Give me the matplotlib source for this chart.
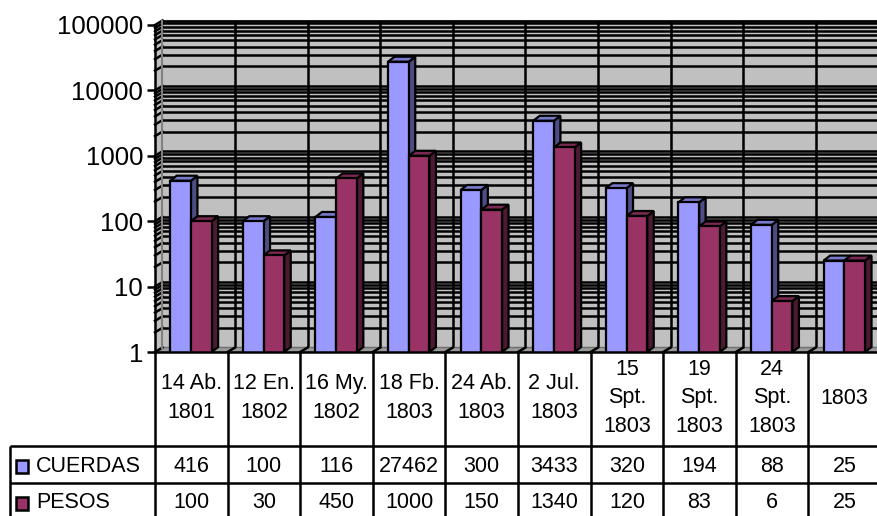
import matplotlib
matplotlib.use("Agg")
import matplotlib.pyplot as plt
import matplotlib.transforms as mtransforms
from matplotlib.patches import Polygon, Rectangle
from matplotlib.lines import Line2D
import numpy as np

plt.rcParams['font.family'] = ['Liberation Sans', 'DejaVu Sans']

# ---- data ----
categories = ["14 Ab.\n1801", "12 En.\n1802", "16 My.\n1802", "18 Fb.\n1803",
              "24 Ab.\n1803", "2 Jul.\n1803", "15\nSpt.\n1803", "19\nSpt.\n1803",
              "24\nSpt.\n1803", "1803"]
cuerdas = [416, 100, 116, 27462, 300, 3433, 320, 194, 88, 25]
pesos = [100, 30, 450, 1000, 150, 1340, 120, 83, 6, 25]
series_names = ["CUERDAS", "PESOS"]
y_ticks = [1, 10, 100, 1000, 10000, 100000]

# ---- style ----
W, H = 878, 516
front_colors = ["#9999FF", "#993366"]
side_colors = ["#4D4D85", "#4D1A33"]
top_colors = ["#7A7ACC", "#7A2952"]
wall_color = "#C0C0C0"
floor_color = "#9A9A9A"
DX, DY = 7.5, 4.5        # wall depth (pixels)
BDX, BDY = 6.5, 5.0      # bar depth (pixels)
bar_w = 0.285
bar_off = [0.21, 0.495]
grid_lw = 1.8

fig = plt.figure(figsize=(W / 100, H / 100), dpi=100)
fig.patch.set_facecolor("white")

n = len(categories)
ax = fig.add_axes([155 / W, (H - 352) / H, 726 / W, 327 / H])
ax.set_yscale("log")
ax.set_ylim(1, 1e5)
ax.set_xlim(0, n)
ax.patch.set_visible(False)
for s in ("top", "right"):
    ax.spines[s].set_visible(False)
for s in ("left", "bottom"):
    ax.spines[s].set_linewidth(1.8)
    ax.spines[s].set_zorder(6)
ax.set_xticks([])
ax.set_yticks(y_ticks)
ax.set_yticklabels([str(v) for v in y_ticks])
ax.yaxis.set_minor_locator(matplotlib.ticker.NullLocator())
ax.tick_params(axis="y", direction="out", length=5.5, width=1.8, labelsize=18.5, pad=3)

wall_tf = ax.transData + mtransforms.Affine2D().translate(DX, DY)
ident = mtransforms.IdentityTransform()

# back wall
ax.add_patch(Rectangle((0, 0), 1, 1, transform=ax.transAxes + mtransforms.Affine2D().translate(DX, DY),
                       facecolor=wall_color, edgecolor="#808080", lw=1.5, zorder=0.5, clip_on=False))

grid_vals = [m * 10 ** k for k in range(5) for m in range(1, 10)] + [1e5]
for g in grid_vals:
    ax.plot([0, n], [g, g], color="black", lw=grid_lw, transform=wall_tf, zorder=0.8, clip_on=False,
            solid_capstyle="butt")
for i in range(1, n + 1):
    ax.plot([i, i], [1, 1e5], color="black", lw=grid_lw, transform=wall_tf, zorder=0.8, clip_on=False,
            solid_capstyle="butt")

fig.canvas.draw()
T = ax.transData.transform


def pt(x, y, dx=0.0, dy=0.0):
    p = T((x, y))
    return (p[0] + dx, p[1] + dy)


def seg(p, q, **kw):
    ax.add_line(Line2D([p[0], q[0]], [p[1], q[1]], transform=ident, clip_on=False, **kw))


# side wall
side = [pt(0, 1), pt(0, 1e5), pt(0, 1e5, DX, DY), pt(0, 1, DX, DY)]
ax.add_patch(Polygon(side, closed=True, transform=ident, facecolor=wall_color,
                     edgecolor="none", zorder=1, clip_on=False))
for g in grid_vals:
    seg(pt(0, g), pt(0, g, DX, DY), color="black", lw=grid_lw, zorder=1.1)
seg(pt(0, 1, DX, DY), pt(0, 1e5, DX, DY), color="#808080", lw=1.5, zorder=1.1)

# floor
floor = [pt(0, 1), pt(n, 1), pt(n, 1, DX, DY), pt(0, 1, DX, DY)]
ax.add_patch(Polygon(floor, closed=True, transform=ident, facecolor=floor_color,
                     edgecolor="#707070", lw=1.0, zorder=1, clip_on=False))
for i in range(1, n + 1):
    seg(pt(i, 1), pt(i, 1, DX, DY), color="black", lw=grid_lw, zorder=1.1)

# bars
x = np.arange(n)
for s, vals in enumerate([cuerdas, pesos]):
    xs = x + bar_off[s]
    bars = ax.bar(xs, vals, width=bar_w, align="edge", color=front_colors[s],
                  edgecolor="black", linewidth=1.6, label=series_names[s])
    for i, (b, v) in enumerate(zip(bars, vals)):
        z = 2 + s * 0.5
        b.set_zorder(z + 0.2)
        x0, x1 = xs[i], xs[i] + bar_w
        side_face = [pt(x1, 1), pt(x1, v), pt(x1, v, BDX, BDY), pt(x1, 1, BDX, BDY)]
        top_face = [pt(x0, v), pt(x1, v), pt(x1, v, BDX, BDY), pt(x0, v, BDX, BDY)]
        ax.add_patch(Polygon(side_face, closed=True, transform=ident, facecolor=side_colors[s],
                             edgecolor="black", lw=1.6, zorder=z, clip_on=False))
        ax.add_patch(Polygon(top_face, closed=True, transform=ident, facecolor=top_colors[s],
                             edgecolor="black", lw=1.6, zorder=z + 0.1, clip_on=False,
                             joinstyle="miter"))

# ---- data table ----
col_px = 72.6
leg_w = 145.2 / col_px
tax = fig.add_axes([(155 - 145.2) / W, 0, (726 + 145.2) / W, (H - 352) / H])
tax.set_xlim(-leg_w, n)
tax.set_ylim(H - 352, 0)
tax.axis("off")

row_top = [0, 94, 131]
row_bot = [94, 131, 168]
lw_t = 1.8
for i in range(n + 1):
    tax.plot([i, i], [0, 170], color="black", lw=lw_t, clip_on=False, solid_capstyle="butt")
tax.plot([-leg_w, -leg_w], [row_top[1], 170], color="black", lw=lw_t, solid_capstyle="butt",
         clip_on=False)
for yy in row_top[1:]:
    tax.plot([-leg_w, n], [yy, yy], color="black", lw=lw_t, solid_capstyle="butt", clip_on=False)

# header cells: each line placed at a fixed step for tight line spacing
line_step = 28.5
for i, c in enumerate(categories):
    lines = c.split("\n")
    for k, ln in enumerate(lines):
        yy = 46 + (k - (len(lines) - 1) / 2) * line_step
        tax.text(i + 0.5, yy, ln, ha="center", va="center", fontsize=15.5)
for r, vals in enumerate([cuerdas, pesos]):
    yc = (row_top[r + 1] + row_bot[r + 1]) / 2 + 1.5
    for i, v in enumerate(vals):
        tax.text(i + 0.5, yc, str(v), ha="center", va="center", fontsize=15.5)
    kx = -leg_w + 6 / col_px
    tax.add_patch(Rectangle((kx, yc - 6.5), 12 / col_px, 13, facecolor=front_colors[r],
                            edgecolor="black", lw=1.8))
    tax.text(-leg_w + 26 / col_px, yc, series_names[r], ha="left", va="center", fontsize=15.5)

fig.savefig("out.png", dpi=100)
